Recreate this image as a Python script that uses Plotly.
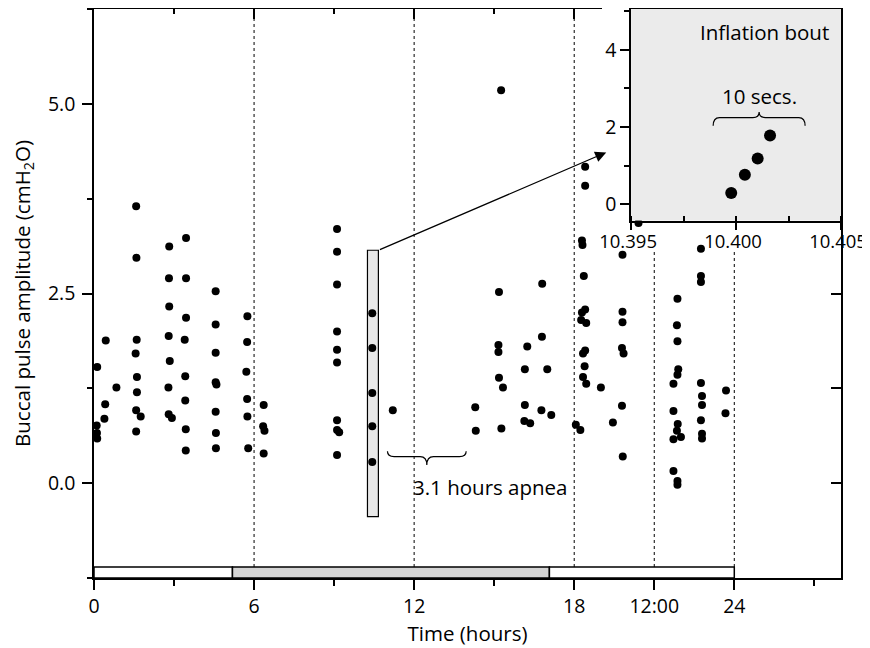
import plotly.graph_objects as go

# ---------------- data ----------------
hours = [0.44, 0.12, 0.84, 0.42, 0.39, 0.10, 0.11, 0.12,
         1.58, 1.59, 1.60, 1.56, 1.61, 1.61, 1.58, 1.75, 1.58,
         2.82, 2.81, 2.82, 2.80, 2.84, 2.79, 2.80, 2.92,
         3.45, 3.45, 3.45, 3.40, 3.42, 3.42, 3.44, 3.44,
         4.56, 4.56, 4.56, 4.56, 4.59, 4.56, 4.57, 4.57,
         5.75, 5.74, 5.71, 5.74, 5.75, 5.78,
         6.36, 6.34, 6.39, 6.36,
         9.11, 9.11, 9.11, 9.11, 9.11, 9.11, 9.11, 9.11, 9.19, 9.11,
         10.43, 10.43, 10.43, 10.43, 10.43,
         11.20,
         14.29, 14.31,
         15.26, 15.18, 15.16, 15.16, 15.18, 15.33, 15.27,
         16.24, 16.15, 16.15, 16.13, 16.35,
         16.80, 16.79, 16.99, 16.77, 17.14,
         18.41, 18.41, 18.29, 18.31, 18.36, 18.41, 18.29, 18.26, 18.45,
         18.41, 18.33, 18.39, 18.33, 18.45, 18.06, 18.23,
         19.00,
         19.81, 19.81, 19.81, 19.79, 19.85, 19.79, 19.45, 19.82,
         20.41,
         21.87, 21.85, 21.87, 21.90, 21.87, 21.72, 21.72, 21.88, 21.85, 22.00,
         21.72, 21.72, 21.87, 21.87,
         22.75, 22.75, 22.75, 22.75, 22.79, 22.79, 22.75, 22.79, 22.79,
         23.69, 23.67]
amplitude = [1.88, 1.53, 1.26, 1.04, 0.85, 0.76, 0.66, 0.59,
             3.65, 2.97, 1.89, 1.71, 1.40, 1.20, 0.96, 0.88, 0.68,
             3.12, 2.70, 2.33, 1.94, 1.61, 1.26, 0.91, 0.86,
             3.23, 2.70, 2.18, 1.89, 1.41, 1.09, 0.71, 0.43,
             2.53, 2.09, 1.72, 1.33, 1.30, 0.94, 0.66, 0.46,
             2.20, 1.86, 1.47, 1.11, 0.88, 0.46,
             1.03, 0.75, 0.69, 0.39,
             3.35, 3.05, 2.62, 2.00, 1.76, 1.59, 0.83, 0.70, 0.67, 0.37,
             2.24, 1.78, 1.19, 0.75, 0.28,
             0.96,
             1.00, 0.69,
             5.18, 2.52, 1.82, 1.73, 1.39, 1.26, 0.72,
             1.80, 1.50, 1.03, 0.82, 0.79,
             2.63, 1.93, 1.50, 0.96, 0.90,
             4.17, 3.92, 3.20, 3.14, 2.73, 2.29, 2.25, 2.15, 2.11,
             1.75, 1.71, 1.54, 1.40, 1.31, 0.77, 0.70,
             1.26,
             3.01, 2.26, 2.12, 1.78, 1.71, 1.02, 0.80, 0.35,
             3.43,
             2.43, 2.08, 1.87, 1.50, 1.43, 1.31, 0.95, 0.78, 0.69, 0.61,
             0.58, 0.16, 0.03, -0.02,
             3.09, 2.73, 2.65, 1.32, 1.15, 1.03, 0.83, 0.65, 0.59,
             1.22, 0.92]

bout_time = [10.39977, 10.40042, 10.40103, 10.40162]
bout_amp = [0.29, 0.76, 1.18, 1.78]

x_tick_vals = [0, 6, 12, 18, 21, 24]
x_tick_text = ["0", "6", "12", "18", "12:00", "24"]
x_minor_vals = [3, 9, 15, 27]
y_tick_vals = [0, 2.5, 5.0]
y_tick_text = ["0.0", "2.5", "5.0"]
x_range = [0, 28]
y_range = [-1.25, 6.25]

day_lines = [6, 12, 18, 21, 24]
day_line_tops = [6.25, 6.25, 6.25, 3.07, 3.07]
light_start = [0, 5.19, 17.07]
light_end = [5.19, 17.07, 24]
light_fill = ["white", "#d4d4d4", "white"]
light_bar_y = [-1.25, -1.105]

bout_box_x = [10.25, 10.66]
bout_box_y = [-0.44, 3.07]
arrow_tip = [19.2, 4.36]

apnea_brace = dict(x0=11.0, x1=13.95, yend=0.42, ybar=0.35, ytip=0.24, dx=0.25)
apnea_label = dict(x=14.85, y=-0.05, text="3.1 hours apnea")

inset_x_range = [10.395, 10.405]
inset_y_range = [-0.43, 5.06]
inset_x_ticks = [10.395, 10.400, 10.405]
inset_x_text = ["10.395", "10.400", "10.405"]
inset_y_ticks = [0, 2, 4]
secs_brace = dict(x0=10.39891, x1=10.40329, yend=2.03, ybar=2.245, ytip=2.39, dx=0.0003)

FONT = "Open Sans"
FS = 19.5
FS_NOTE = 20.5


def brace_path(b):
    x0, x1, ye, yb, yt, dx = b["x0"], b["x1"], b["yend"], b["ybar"], b["ytip"], b["dx"]
    xm = (x0 + x1) / 2
    return (f"M {x0},{ye} Q {x0},{yb} {x0+dx},{yb} L {xm-dx},{yb} "
            f"Q {xm},{yb} {xm},{yt} Q {xm},{yb} {xm+dx},{yb} "
            f"L {x1-dx},{yb} Q {x1},{yb} {x1},{ye}")


fig = go.Figure()

fig.add_trace(go.Scatter(x=hours, y=amplitude, mode="markers",
                         marker=dict(color="black", size=8),
                         showlegend=False, hoverinfo="skip"))
fig.add_trace(go.Scatter(x=[None], y=[None], xaxis="x2", yaxis="y",
                         showlegend=False, hoverinfo="skip"))
fig.add_trace(go.Scatter(x=[None], y=[None], xaxis="x", yaxis="y2",
                         showlegend=False, hoverinfo="skip"))
fig.add_trace(go.Scatter(x=bout_time, y=bout_amp, mode="markers",
                         xaxis="x3", yaxis="y3",
                         marker=dict(color="black", size=12),
                         showlegend=False, hoverinfo="skip"))

shapes = []
for xv, top in zip(day_lines, day_line_tops):
    shapes.append(dict(type="line", xref="x", yref="y", x0=xv, x1=xv,
                       y0=light_bar_y[1], y1=top, layer="below",
                       line=dict(color="black", width=1, dash="dot")))
for s, e, c in zip(light_start, light_end, light_fill):
    shapes.append(dict(type="rect", xref="x", yref="y", x0=s, x1=e,
                       y0=light_bar_y[0], y1=light_bar_y[1], fillcolor=c,
                       layer="below", line=dict(color="black", width=1.5)))
shapes.append(dict(type="rect", xref="x", yref="y",
                   x0=bout_box_x[0], x1=bout_box_x[1],
                   y0=bout_box_y[0], y1=bout_box_y[1],
                   fillcolor="#e8e8e8", layer="below",
                   line=dict(color="black", width=1.2)))
shapes.append(dict(type="path", xref="x", yref="y",
                   path=brace_path(apnea_brace),
                   line=dict(color="black", width=1.2)))
shapes.append(dict(type="rect", xref="x3", yref="y3",
                   x0=inset_x_range[0], x1=inset_x_range[1],
                   y0=inset_y_range[0], y1=inset_y_range[1],
                   fillcolor="#ebebeb", layer="below", line=dict(width=0)))
shapes.append(dict(type="path", xref="x3", yref="y3",
                   path=brace_path(secs_brace),
                   line=dict(color="black", width=1.2)))

annotations = [
    dict(x=arrow_tip[0], y=arrow_tip[1], ax=bout_box_x[1], ay=bout_box_y[1],
         xref="x", yref="y", axref="x", ayref="y", text="", showarrow=True,
         arrowhead=2, arrowsize=1.7, arrowwidth=1.3, arrowcolor="black",
         standoff=0, startstandoff=0),
    dict(x=apnea_label["x"], y=apnea_label["y"], xref="x", yref="y",
         text=apnea_label["text"], showarrow=False,
         font=dict(family=FONT, size=FS_NOTE, color="black")),
    dict(x=(secs_brace["x0"] + secs_brace["x1"]) / 2, y=2.8, xref="x3", yref="y3",
         text="10 secs.", showarrow=False,
         font=dict(family=FONT, size=FS_NOTE, color="black")),
    dict(x=10.4045, y=4.47, xref="x3", yref="y3", xanchor="right",
         text="Inflation bout", showarrow=False,
         font=dict(family=FONT, size=FS_NOTE, color="black")),
]

axis_common = dict(showgrid=False, zeroline=False, linecolor="black",
                   linewidth=1.5, tickcolor="black", tickwidth=1.5,
                   automargin=False)

# the page body adds an 8px offset, margins compensate for it
fig.update_layout(
    width=870, height=648,
    margin=dict(l=86, r=37, t=1, b=78),
    paper_bgcolor="white", plot_bgcolor="rgba(0,0,0,0)",
    font=dict(family=FONT, size=FS, color="black"),
    shapes=shapes, annotations=annotations,
    xaxis=dict(domain=[0, 1], range=x_range, anchor="y",
               tickvals=x_tick_vals, ticktext=x_tick_text,
               ticks="outside", ticklen=10, showline=True,
               minor=dict(tickvals=x_minor_vals, ticks="outside", ticklen=6,
                          tickcolor="black", tickwidth=1.5),
               title=dict(text="Time (hours)", font=dict(size=FS_NOTE),
                          standoff=2),
               tickfont=dict(size=FS), **axis_common),
    yaxis=dict(domain=[0, 1], range=y_range, anchor="x",
               tickvals=y_tick_vals, ticktext=y_tick_text,
               ticks="outside", ticklen=10, showline=True, ticklabelstandoff=3,
               minor=dict(dtick=1.25, tick0=0, ticks="outside", ticklen=5,
                          tickcolor="black", tickwidth=1.5),
               title=dict(text="Buccal pulse amplitude (cmH<sub>2</sub>O)",
                          font=dict(size=FS_NOTE)),
               tickfont=dict(size=FS), **axis_common),
    xaxis2=dict(domain=[0, 0.6797], range=[0, 19.04], anchor="y", side="top",
                tickvals=[6, 12, 18], ticks="inside", ticklen=10,
                showticklabels=False, showline=True,
                minor=dict(dtick=3, tick0=0, ticks="inside", ticklen=5,
                           tickcolor="black", tickwidth=1.5),
                **axis_common),
    yaxis2=dict(overlaying="y", side="right", anchor="x", range=y_range,
                tickvals=[-1.25, 0, 1.25, 2.5], ticks="inside", ticklen=10,
                showticklabels=False, showline=True, **axis_common),
    xaxis3=dict(domain=[0.719, 1.0], range=inset_x_range, anchor="y3",
                tickvals=inset_x_ticks, ticktext=inset_x_text,
                ticks="outside", ticklen=8, showline=True, mirror=True,
                ticklabelstandoff=-5, ticklabelshift=-3,
                minor=dict(dtick=0.0025, tick0=10.395, ticks="inside", ticklen=5,
                           tickcolor="black", tickwidth=1.5),
                tickfont=dict(size=18.5), **axis_common),
    yaxis3=dict(domain=[0.628, 1.0], range=inset_y_range, anchor="x3",
                tickvals=inset_y_ticks, ticks="outside", ticklen=9,
                showline=True, mirror=True,
                minor=dict(dtick=1, tick0=0, ticks="outside", ticklen=5,
                           tickcolor="black", tickwidth=1.5),
                tickfont=dict(size=FS), **axis_common),
)

fig.write_html("out.html", config={"displayModeBar": False})
